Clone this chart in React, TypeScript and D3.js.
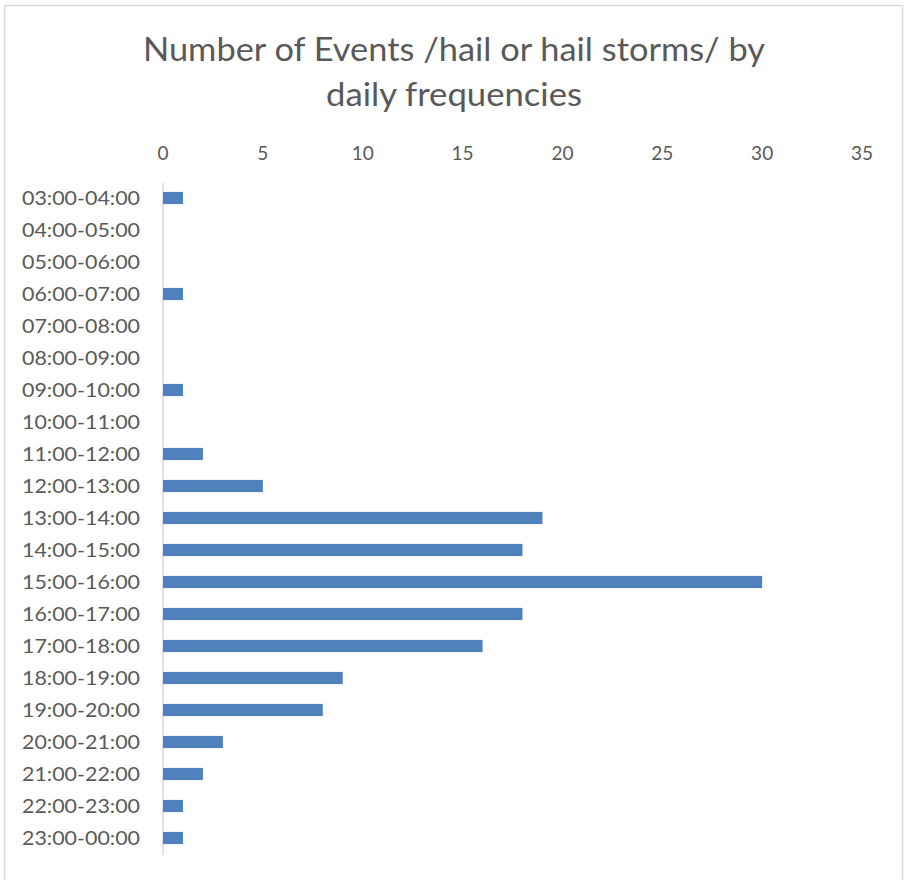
import React from "react";
import * as d3 from "d3";

const categories = [
  "03:00-04:00", "04:00-05:00", "05:00-06:00", "06:00-07:00", "07:00-08:00",
  "08:00-09:00", "09:00-10:00", "10:00-11:00", "11:00-12:00", "12:00-13:00",
  "13:00-14:00", "14:00-15:00", "15:00-16:00", "16:00-17:00", "17:00-18:00",
  "18:00-19:00", "19:00-20:00", "20:00-21:00", "21:00-22:00", "22:00-23:00",
  "23:00-00:00",
];
const values = [1, 0, 0, 1, 0, 0, 1, 0, 2, 5, 19, 18, 30, 18, 16, 9, 8, 3, 2, 1, 1];
const ticks = [0, 5, 10, 15, 20, 25, 30, 35];
const titleLines = ["Number of Events /hail or hail storms/ by", "daily frequencies"];

const W = 905, H = 880;
const FONT = "Lato, 'Liberation Sans', sans-serif";

export default function App() {
  const x = d3.scaleLinear().domain([0, 35]).range([163, 862]);
  const y = d3.scaleBand().domain(categories).range([182, 854]).paddingInner(0.62).paddingOuter(0.31);
  const bh = y.bandwidth();
  return (
    <svg width={W} height={H} style={{ position: "absolute", left: 0, top: 0 }}>
      <rect x={0} y={0} width={W} height={H} fill="#fff" />
      <rect x={4.5} y={5.5} width={898} height={H} fill="none" stroke="#d9d9d9" strokeWidth={1.5} />
      {titleLines.map((t, i) => (
        <text key={i} x={454} y={61 + i * 45} textAnchor="middle" fontFamily={FONT} fontSize={33}
          fontWeight={400} fill="#595959" textLength={i === 0 ? 622 : 256} lengthAdjust="spacingAndGlyphs">{t}</text>
      ))}
      {ticks.map((t) => (
        <text key={t} x={x(t)} y={160} textAnchor="middle" fontFamily={FONT} fontSize={19} fill="#595959">{t}</text>
      ))}
      <line x1={163} x2={163} y1={183} y2={855} stroke="#d9d9d9" strokeWidth={1.5} />
      {categories.map((c, i) => (
        <g key={c}>
          <text x={140} y={(y(c) as number) + bh / 2 + 6.5} textAnchor="end" fontFamily={FONT} fontSize={19}
            fill="#595959" textLength={118} lengthAdjust="spacingAndGlyphs">{c}</text>
          {values[i] > 0 && (
            <rect x={x(0)} y={y(c)} width={x(values[i]) - x(0)} height={bh} fill="#4f81bd" />
          )}
        </g>
      ))}
    </svg>
  );
}
